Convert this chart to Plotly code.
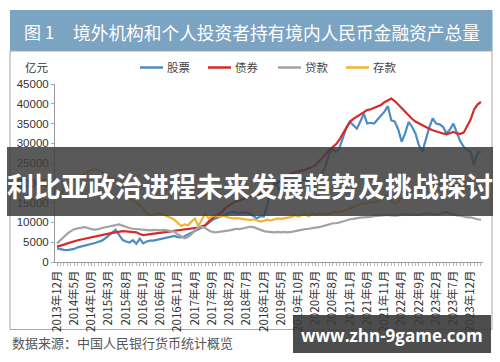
import plotly.graph_objects as go

# ---------------- data (亿元), monthly, 2013-12 ... 2024-03 ----------------
stocks = [3450, 3200, 3050, 3000, 3100, 3300, 3700, 3900, 4100, 4400, 4550, 4800,
          5100, 5400, 6000, 6600, 7400, 8100, 6800, 5600, 5200, 4900, 5500, 4600,
          5900, 4700, 5200, 5400, 5400, 5600, 5700, 6000, 6200, 6400, 6600, 6300,
          6200, 6500, 6900, 7300, 7700, 8200, 8700, 9200, 10000, 10600, 11000, 11400,
          11800, 12000, 12400, 12700, 12500, 12300, 12600, 12500, 12200, 11500, 11000, 11600,
          11500, 14400, 18000, 20000, 19000, 17500, 18500, 18800, 19500, 19000, 19800, 20500,
          21000, 20500, 18500, 19500, 20500, 22500, 24500, 27500, 28500, 27800, 29000, 31500,
          34000, 35400, 34500, 33700, 35500, 37500, 35000, 35200, 35000, 36000, 37100, 38000,
          39400, 35800, 35500, 33500, 30400, 32500, 35400, 34200, 32500, 29500, 27900, 31200,
          34000, 36300, 35000, 34800, 34200, 32500, 33500, 35000, 32500, 30500, 29100, 28300,
          27800, 24500, 27600, 27900]

bonds = [3900, 4100, 4400, 4700, 5000, 5300, 5500, 5700, 5900, 6100, 6300, 6500,
         6700, 6850, 7000, 7200, 7350, 7500, 7700, 7800, 7750, 7700, 7650, 7500,
         7100, 6800, 6900, 7000, 7100, 7200, 7300, 7450, 7600, 7750, 7900, 8000,
         8100, 8200, 8300, 8400, 8500, 8700, 9000, 9300, 10200, 11000, 11700, 12200,
         12700, 13800, 14400, 14900, 15300, 15600, 15900, 16100, 16500, 16900, 17200, 17300,
         17500, 18000, 18800, 19500, 20000, 20600, 21200, 21900, 22400, 22700, 22900, 23100,
         23300, 23700, 24000, 24500, 25400, 26200, 27300, 28300, 29000, 29800, 31000, 32500,
         33800, 35500, 36200, 36800, 37200, 37800, 38400, 38600, 38900, 39400, 39700, 40400,
         40900, 41300, 40700, 39800, 38800, 37800, 37000, 36200, 35500, 35000, 34600, 34200,
         33700, 33300, 33000, 32800, 32500, 32300, 32700, 32900, 32500, 32400, 32700, 34200,
         36000, 38500, 39800, 40500]

loans = [4700, 5500, 6500, 7200, 7800, 8300, 8500, 8700, 8800, 8600, 8300, 8200,
         8300, 8600, 8800, 8900, 9100, 9300, 9500, 9200, 8800, 8600, 8400, 8300,
         8200, 8100, 8000, 8000, 8100, 8000, 8000, 8100, 8000, 7900, 7700, 7000,
         6400, 6000, 6300, 7000, 8000, 8700, 8900, 8600, 8000, 7600, 7500, 7600,
         7800, 7900, 8000, 8200, 8400, 8300, 8500, 8700, 8900, 8800, 8500, 8100,
         7800, 7700, 7600, 7500, 7600, 7500, 7600, 7500, 7600, 7800, 7900, 8100,
         8300, 8400, 8600, 8700, 8800, 9000, 9300, 9500, 9800, 9800, 10000, 10300,
         10500, 10800, 10900, 11100, 11200, 11300, 11300, 11400, 11600, 11700, 11800, 11800,
         11900, 11800, 11700, 11800, 12000, 12100, 12000, 11900, 11900, 11900, 12000, 12100,
         12300, 12100, 12000, 12100, 12500, 12600, 12300, 12000, 11800, 11700, 11500, 11300,
         11300, 11000, 10800, 10700]

deposits = [15500, 17000, 18500, 19500, 20300, 21000, 21500, 22000, 22500, 22800, 23200, 23500,
            23400, 22800, 22000, 21500, 21200, 21000, 20000, 19000, 18000, 16500, 15600, 15000,
            14400, 13500, 12300, 11900, 12000, 12300, 12200, 12000, 11500, 11200, 10700, 9800,
            9100, 9500, 9300, 10200, 11000, 9100, 10600, 12300, 11000, 11600, 11800, 11500,
            11700, 11400, 11200, 11000, 11100, 11000, 10900, 10800, 10600, 10800, 10500, 10200,
            10400, 10700, 10500, 10800, 11000, 10900, 11000, 11200, 11400, 11800, 11500, 11900,
            12000, 11600, 12300, 12000, 12300, 12200, 12000, 12300, 12500, 12700, 12600, 12900,
            13100, 13500, 13900, 14200, 14800, 14600, 15000, 15200, 15100, 15300, 15600, 16500,
            17300, 15500, 14800, 15200, 16300, 16900, 17500, 18000, 18500, 19000, 19300, 19000,
            19500, 19800, 20000, 19600, 19800, 20200, 20000, 19500, 19200, 19400, 19000, 18800,
            18500, 18800, 19000, 19200]

series_names = ["股票", "债券", "贷款", "存款"]
series_colors = ["#4a8cc4", "#d62a2a", "#a3a3a3", "#f2b233"]

tick_labels = ["2013年12月", "2014年5月", "2014年10月", "2015年3月", "2015年8月",
               "2016年1月", "2016年6月", "2016年11月", "2017年4月", "2017年9月",
               "2018年2月", "2018年7月", "2018年12月", "2019年5月", "2019年10月",
               "2020年3月", "2020年8月", "2021年1月", "2021年6月", "2021年11月",
               "2022年4月", "2022年9月", "2023年2月", "2023年7月", "2023年12月"]
tick_step = 5

title_no = "图 1"
title_text = "境外机构和个人投资者持有境内人民币金融资产总量"
unit_text = "亿元"
source_text = "数据来源：中国人民银行货币统计概览"
banner_text = "利比亚政治进程未来发展趋势及挑战探讨"
watermark_text = "www.zhn-9game.com"

# ---------------- figure ----------------
W, H = 500, 362
L, R, T, B = 55, 17, 84, 100
PW, PH = W - L - R, H - T - B


def PX(x):
    return (x - L) / PW


def PY(y):
    return (H - B - y) / PH


CJK = "Noto Sans CJK SC, Noto Sans, sans-serif"

fig = go.Figure()
months = list(range(len(stocks)))
for name, vals, col in zip(series_names, [stocks, bonds, loans, deposits], series_colors):
    fig.add_trace(go.Scatter(x=months, y=vals, mode="lines", name=name,
                             line=dict(color=col, width=2.2), showlegend=False))

tickvals = [i * tick_step for i in range(len(tick_labels))]

fig.update_layout(
    width=W, height=H,
    margin=dict(l=L, r=R, t=T, b=B, pad=0),
    paper_bgcolor="white", plot_bgcolor="white",
    font=dict(family=CJK, size=11, color="#333"),
    xaxis=dict(range=[-0.6, len(stocks) - 0.4], tickmode="array", tickvals=tickvals,
               ticktext=tick_labels, tickangle=-90, showgrid=False, zeroline=False,
               showline=True, linecolor="#9a9a9a", linewidth=1,
               ticks="outside", ticklen=3, tickcolor="#aaa",
               minor=dict(dtick=1, ticks="outside", ticklen=3, tickcolor="#bbb"),
               tickfont=dict(size=11.5, color="#333", family=CJK)),
    yaxis=dict(range=[0, 45000], tickvals=list(range(0, 45001, 5000)), tickformat="d",
               showgrid=False, zeroline=False, showline=True, linecolor="#9a9a9a", linewidth=1,
               ticks="outside", ticklen=3, tickcolor="#aaa",
               tickfont=dict(size=11.5, color="#333", family="Liberation Sans, Arial, sans-serif")),
)

shapes = [
    # title bar
    dict(type="rect", xref="paper", yref="paper", x0=PX(10), x1=PX(492.5), y0=PY(51), y1=PY(10),
         fillcolor="#7ba3c2", line=dict(width=0), layer="below"),
    # frame
    dict(type="rect", xref="paper", yref="paper", x0=PX(10), x1=PX(492), y0=PY(329.5), y1=PY(51),
         fillcolor="rgba(0,0,0,0)", line=dict(color="#a8a8a8", width=1), layer="below"),
    # banner overlay
    dict(type="rect", xref="paper", yref="paper", x0=PX(7), x1=PX(493), y0=PY(216), y1=PY(147),
         fillcolor="rgba(62,62,62,0.86)", line=dict(width=0), layer="above"),
    # watermark box
    dict(type="rect", xref="paper", yref="paper", x0=PX(293), x1=PX(491), y0=PY(353), y1=PY(315),
         fillcolor="rgba(58,58,58,0.9)", line=dict(width=0), layer="above"),
]

annotations = [
    dict(text=title_no, x=PX(22), y=PY(32), xanchor="left", yanchor="middle",
         font=dict(size=17, color="white", family=CJK)),
    dict(text=title_text, x=PX(71), y=PY(32), xanchor="left", yanchor="middle",
         font=dict(size=17.7, color="white", family=CJK)),
    dict(text=unit_text, x=PX(37), y=PY(67.5), xanchor="center", yanchor="middle",
         font=dict(size=11.5, color="#333", family=CJK)),
    dict(text=source_text, x=PX(10), y=PY(342), xanchor="left", yanchor="middle",
         font=dict(size=13, color="#555", family=CJK)),
    dict(text="<b>" + banner_text + "</b>", x=PX(250), y=PY(185), xanchor="center", yanchor="middle",
         font=dict(size=27, color="white", family=CJK)),
    dict(text="<b>" + watermark_text + "</b>", x=PX(392), y=PY(335.5), xanchor="center",
         yanchor="middle", font=dict(size=17, color="white", family="Open Sans, Noto Sans, sans-serif")),
]

# custom legend (line sample + label) placed as in the reference
legend_x = [140, 208, 278, 346]
for name, col, lx in zip(series_names, series_colors, legend_x):
    shapes.append(dict(type="line", xref="paper", yref="paper", x0=PX(lx), x1=PX(lx + 23),
                       y0=PY(67.5), y1=PY(67.5), line=dict(color=col, width=2.5), layer="above"))
    annotations.append(dict(text=name, x=PX(lx + 25), y=PY(67.5), xanchor="left", yanchor="middle",
                            font=dict(size=11.5, color="#444", family=CJK)))

for a in annotations:
    a.update(xref="paper", yref="paper", showarrow=False)
fig.update_layout(shapes=shapes, annotations=annotations)

fig.write_html("out.html", config={"displayModeBar": False},
               post_script="document.body.style.margin='0';")
